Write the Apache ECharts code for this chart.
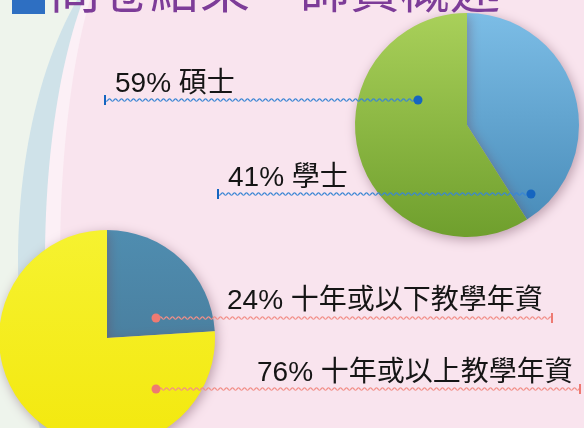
<!DOCTYPE html>
<html><head><meta charset="utf-8">
<script src="https://cdn.jsdelivr.net/npm/echarts@6/dist/echarts.min.js"></script>
<style>html,body{margin:0;padding:0;background:#f9e4ee}#c{width:584px;height:428px}</style>
</head><body><div id="c"></div>
<script>
// ---- data ----
const degreeNames = ['學士', '碩士'];
const degreeValues = [41, 59];
const tenureNames = ['十年或以下教學年資', '十年或以上教學年資'];
const tenureValues = [24, 76];
const titleText = '問卷結果－師資概述';

// ---- layout / style (not data) ----
const degreeLabelPos = [[228, 178], [115, 84]];
const tenureLabelPos = [[227, 301], [257, 373]];
const FONT = '"Liberation Sans", "Noto Sans CJK TC", sans-serif';

function ellipsePts(cx, cy, rx, ry) {
  const p = [];
  for (let i = 0; i < 180; i++) {
    const a = i / 180 * Math.PI * 2;
    p.push([cx + rx * Math.cos(a), cy + ry * Math.sin(a)]);
  }
  return p;
}
function wave(x0, x1, y, amp, len) {
  const p = [];
  for (let x = x0; x <= x1; x += 0.5) p.push([x, y + amp * Math.sin((x - x0) / len * 2 * Math.PI)]);
  return p;
}
function annot(x0, x1, y, tickX, dotX, lineColor, dotColor) {
  return [
    { type: 'polyline', z: 20, shape: { points: wave(x0, x1, y, 1.2, 6) }, style: { stroke: lineColor, lineWidth: 1.2, fill: null } },
    { type: 'line', z: 20, shape: { x1: tickX, y1: y - 5, x2: tickX, y2: y + 5 }, style: { stroke: dotColor, lineWidth: 2 } },
    { type: 'circle', z: 21, shape: { cx: dotX, cy: y, r: 4.5 }, style: { fill: dotColor } }
  ];
}
function lg(c1, c2) {
  return new echarts.graphic.LinearGradient(0, 0, 0, 1, [{ offset: 0, color: c1 }, { offset: 1, color: c2 }]);
}

const chart = echarts.init(document.getElementById('c'), null, { renderer: 'canvas' });

const bg = [
  { type: 'rect', z: -10, shape: { x: 0, y: 0, width: 584, height: 428 }, style: { fill: '#eef4ec' } },
  { type: 'polygon', z: -9, shape: { points: ellipsePts(184, 260, 166, 340) }, style: { fill: '#cfe2e9' } },
  { type: 'polygon', z: -8, shape: { points: ellipsePts(152, 260, 107, 340) }, style: { fill: '#fcf0f6' } },
  { type: 'polygon', z: -7, shape: { points: ellipsePts(144, 260, 84, 340) }, style: { fill: '#f9e4ee' } },
  { type: 'rect', z: -7, shape: { x: 144, y: 0, width: 440, height: 428 }, style: { fill: '#f9e4ee' } },
  { type: 'rect', z: 5, shape: { x: 12, y: -20, width: 33, height: 34 }, style: { fill: '#2e6fc2' } },
  { type: 'text', z: 5, x: 50, y: 14, style: { text: titleText, font: '50px "Noto Sans CJK TC"', fill: '#7d3c98', textVerticalAlign: 'bottom' } }
];

const ann = [].concat(
  annot(105, 418, 100, 105, 418, '#3a86d4', '#1565c0'),
  annot(218, 531, 194, 218, 531, '#3a86d4', '#1565c0'),
  annot(156, 552, 318, 552, 156, '#f28f88', '#ee7a72'),
  annot(156, 580, 389, 580, 156, '#f28f88', '#ee7a72')
);

const labelStyle = {
  show: true, position: 'inside', color: '#151515', fontSize: 28, fontFamily: FONT,
  formatter: p => p.value + '% ' + p.name
};

chart.setOption({
  backgroundColor: 'transparent',
  animation: false,
  graphic: { elements: bg.concat(ann) },
  series: [
    {
      type: 'pie', z: 3, center: [467, 125], radius: [0, 112], startAngle: 90, clockwise: true,
      avoidLabelOverlap: false,
      label: labelStyle, labelLine: { show: false },
      labelLayout: p => ({ x: degreeLabelPos[p.dataIndex][0], y: degreeLabelPos[p.dataIndex][1], align: 'left', verticalAlign: 'middle' }),
      itemStyle: { shadowBlur: 12, shadowColor: 'rgba(110,70,90,0.45)', shadowOffsetX: 2, shadowOffsetY: 3 },
      emphasis: { disabled: true },
      data: degreeNames.map((n, i) => ({
        name: n, value: degreeValues[i],
        itemStyle: { color: i === 0 ? lg('#7cbde6', '#4a8dba') : lg('#a9d05a', '#6f9f2d') }
      }))
    },
    {
      type: 'pie', z: 3, center: [107, 338], radius: [0, 108], startAngle: 90, clockwise: true,
      avoidLabelOverlap: false,
      label: labelStyle, labelLine: { show: false },
      labelLayout: p => ({ x: tenureLabelPos[p.dataIndex][0], y: tenureLabelPos[p.dataIndex][1], align: 'left', verticalAlign: 'middle' }),
      itemStyle: { shadowBlur: 12, shadowColor: 'rgba(110,70,90,0.45)', shadowOffsetX: 2, shadowOffsetY: 3 },
      emphasis: { disabled: true },
      data: tenureNames.map((n, i) => ({
        name: n, value: tenureValues[i],
        itemStyle: { color: i === 0 ? lg('#4f8db0', '#4a80a0') : lg('#f6f230', '#f3e80e') }
      }))
    }
  ]
});
</script></body></html>
